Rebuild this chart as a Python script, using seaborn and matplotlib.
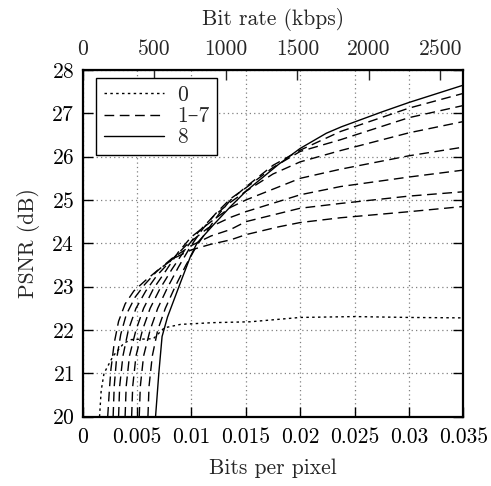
import numpy as np
import pandas as pd
import matplotlib
matplotlib.use("Agg")
import matplotlib.pyplot as plt
from matplotlib.lines import Line2D
import seaborn as sns

# ---------------- data ----------------
KBPS_PER_BPP = 76000.0  # conversion for top axis

bpp_0 = [0.00155, 0.0017, 0.00196, 0.0028, 0.0038, 0.0045, 0.0065, 0.0075, 0.009, 0.012, 0.0154, 0.020, 0.025, 0.030, 0.035]
psnr_0 = [20.0, 20.6, 21.0, 21.4, 21.7, 21.78, 21.8, 22.05, 22.13, 22.17, 22.19, 22.29, 22.31, 22.29, 22.28]

bpp_1 = [0.0023, 0.00245, 0.0026, 0.0029, 0.0033, 0.0039, 0.0047, 0.0058, 0.0070, 0.0085, 0.0100, 0.0118, 0.0136, 0.015, 0.018, 0.020, 0.0237, 0.030, 0.035]
psnr_1 = [20.0, 20.6, 21.1, 21.7, 22.2, 22.6, 22.9, 23.15, 23.4, 23.67, 23.85, 23.98, 24.08, 24.2, 24.38, 24.48, 24.59, 24.73, 24.85]

bpp_2 = [0.0028, 0.0029, 0.0031, 0.0035, 0.0040, 0.0048, 0.0057, 0.0068, 0.0082, 0.0100, 0.0118, 0.0136, 0.015, 0.020, 0.0237, 0.030, 0.035]
psnr_2 = [20.0, 20.7, 21.3, 21.9, 22.35, 22.75, 23.05, 23.35, 23.65, 23.95, 24.17, 24.32, 24.5, 24.81, 24.92, 25.09, 25.19]

bpp_3 = [0.0033, 0.0034, 0.0037, 0.0042, 0.0049, 0.0058, 0.0068, 0.0081, 0.0095, 0.0115, 0.0136, 0.015, 0.020, 0.0237, 0.030, 0.035]
psnr_3 = [20.0, 20.7, 21.4, 22.0, 22.5, 22.9, 23.25, 23.6, 23.95, 24.35, 24.6, 24.73, 25.12, 25.31, 25.53, 25.69]

bpp_4 = [0.0039, 0.0040, 0.0043, 0.0049, 0.0056, 0.0065, 0.0076, 0.0088, 0.0100, 0.0118, 0.0136, 0.015, 0.020, 0.0237, 0.030, 0.035]
psnr_4 = [20.0, 20.7, 21.4, 22.0, 22.5, 22.95, 23.35, 23.8, 24.15, 24.5, 24.83, 25.0, 25.5, 25.71, 26.02, 26.22]

bpp_5 = [0.0045, 0.0046, 0.0049, 0.0055, 0.0062, 0.0071, 0.0082, 0.0094, 0.0106, 0.0120, 0.0136, 0.015, 0.0175, 0.020, 0.0237, 0.030, 0.035]
psnr_5 = [20.0, 20.7, 21.4, 22.0, 22.5, 22.95, 23.4, 23.85, 24.25, 24.62, 24.95, 25.2, 25.6, 25.88, 26.14, 26.55, 26.81]

bpp_6 = [0.0052, 0.0053, 0.0056, 0.0062, 0.0069, 0.0078, 0.0088, 0.0099, 0.0110, 0.0122, 0.0136, 0.015, 0.0175, 0.020, 0.0237, 0.030, 0.035]
psnr_6 = [20.0, 20.7, 21.4, 22.0, 22.5, 22.98, 23.45, 23.92, 24.32, 24.68, 25.03, 25.28, 25.75, 26.12, 26.39, 26.9, 27.18]

bpp_7 = [0.0060, 0.0061, 0.0064, 0.0069, 0.0076, 0.0085, 0.0095, 0.0105, 0.0116, 0.0126, 0.0136, 0.015, 0.0175, 0.020, 0.0237, 0.030, 0.035]
psnr_7 = [20.0, 20.7, 21.4, 22.0, 22.5, 23.0, 23.5, 23.95, 24.35, 24.7, 25.0, 25.3, 25.8, 26.15, 26.58, 27.12, 27.46]

bpp_8 = [0.0067, 0.0070, 0.0073, 0.0078, 0.0090, 0.0099, 0.0105, 0.012, 0.0136, 0.015, 0.018, 0.020, 0.0224, 0.0238, 0.0276, 0.030, 0.035]
psnr_8 = [20.0, 21.0, 21.85, 22.3, 23.1, 23.69, 24.0, 24.42, 24.85, 25.2, 25.82, 26.19, 26.54, 26.69, 27.04, 27.25, 27.65]

legend_labels = ["0", "1\u20137", "8"]
x_ticks = [0, 0.005, 0.01, 0.015, 0.02, 0.025, 0.03, 0.035]
x_tick_labels = ["0", "0.005", "0.01", "0.015", "0.02", "0.025", "0.03", "0.035"]
y_ticks = [20, 21, 22, 23, 24, 25, 26, 27, 28]
top_ticks = [0, 500, 1000, 1500, 2000, 2500]

# ---------------- style ----------------
sns.set_style("ticks")
plt.rcParams["font.family"] = ["cmr10", "DejaVu Serif"]
plt.rcParams["mathtext.fontset"] = "cm"
plt.rcParams["axes.formatter.use_mathtext"] = True
FS = 15.5

fig = plt.figure(figsize=(4.91, 4.86), dpi=100)
ax = fig.add_axes([0.1684, 0.1426, 0.7752, 0.7134])

dotted = (0, (1.8, 2.4))
dashed = (0, (7, 4))

curves = [
    (bpp_0, psnr_0, dotted),
    (bpp_1, psnr_1, dashed),
    (bpp_2, psnr_2, dashed),
    (bpp_3, psnr_3, dashed),
    (bpp_4, psnr_4, dashed),
    (bpp_5, psnr_5, dashed),
    (bpp_6, psnr_6, dashed),
    (bpp_7, psnr_7, dashed),
    (bpp_8, psnr_8, "-"),
]
for bx, py, ls in curves:
    df = pd.DataFrame({"bpp": bx, "psnr": py})
    sns.lineplot(data=df, x="bpp", y="psnr", ax=ax, color="black",
                 linestyle=ls, linewidth=1.0, estimator=None, sort=False,
                 legend=False, zorder=3)

ax.set_xlim(0, 0.035)
ax.set_ylim(20, 28)
ax.set_xticks(x_ticks)
ax.set_xticklabels(x_tick_labels)
ax.set_yticks(y_ticks)
ax.set_xlabel("Bits per pixel", fontsize=FS, labelpad=8)
ax.set_ylabel("PSNR (dB)", fontsize=FS, labelpad=8)
ax.grid(True, color="#808080", linestyle=(0, (1, 2.5)), linewidth=0.9, zorder=0)
ax.tick_params(axis="both", direction="in", length=7, width=1.0,
               labelsize=FS, colors="black")
ax.tick_params(axis="x", pad=8)
ax.tick_params(axis="y", right=True, pad=6)
for s in ax.spines.values():
    s.set_linewidth(1.6)
    s.set_color("black")

sec = ax.secondary_xaxis("top", functions=(lambda b: b * KBPS_PER_BPP,
                                            lambda r: r / KBPS_PER_BPP))
sec.set_xticks(top_ticks)
sec.set_xticklabels([str(t) for t in top_ticks])
sec.tick_params(direction="in", length=7, width=1.0, labelsize=FS, pad=8)
sec.set_xlabel("Bit rate (kbps)", fontsize=FS, labelpad=10)

handles = [Line2D([], [], color="black", linestyle=dotted, linewidth=1.0),
           Line2D([], [], color="black", linestyle=dashed, linewidth=1.0),
           Line2D([], [], color="black", linestyle="-", linewidth=1.0)]
leg = ax.legend(handles, legend_labels, loc="upper left",
                bbox_to_anchor=(0.035, 0.977), borderaxespad=0.0,
                fontsize=FS, frameon=True, fancybox=False, edgecolor="black",
                handlelength=2.8, labelspacing=0.08,
                handletextpad=0.6, borderpad=0.35)
leg.get_frame().set_linewidth(1.0)
leg.get_frame().set_alpha(1)

fig.savefig("out.png", dpi=100)
